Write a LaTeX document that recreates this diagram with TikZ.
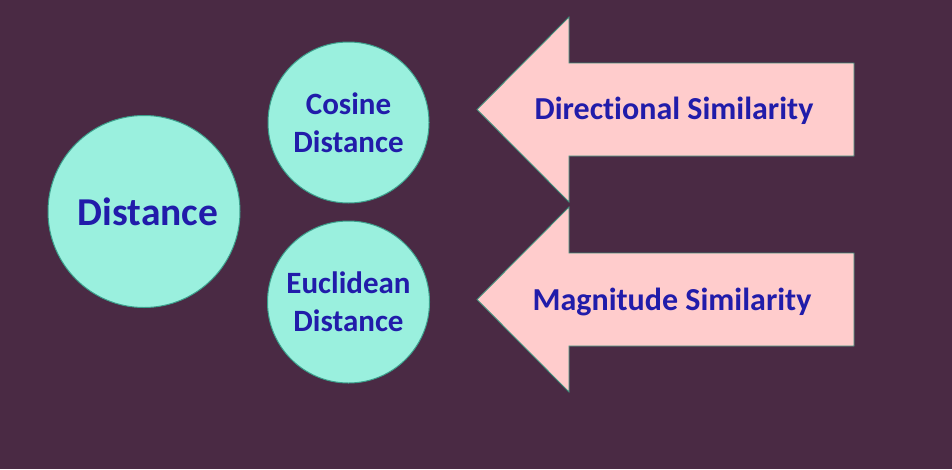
\documentclass[tikz,border=0pt]{standalone}
\usepackage{fontspec}
\setmainfont{Carlito}[Ligatures={NoCommon}]
\definecolor{bgc}{RGB}{74,42,68}
\definecolor{circfill}{RGB}{154,240,222}
\definecolor{circline}{RGB}{60,160,140}
\definecolor{arrfill}{RGB}{255,204,204}
\definecolor{arrline}{RGB}{60,140,120}
\definecolor{txtc}{RGB}{33,28,170}
\tikzset{
  bubble/.style={circle, fill=circfill, draw=circline, line width=1pt, inner sep=0pt, text=txtc, font=\bfseries, align=center},
  arrowshape/.style={fill=arrfill, draw=arrline, line width=0.9pt, line join=miter},
  label text/.style={text=txtc, font=\fontsize{32}{38}\selectfont\bfseries, inner sep=0pt, anchor=base}
}
\begin{document}
\begin{tikzpicture}[x=1pt,y=-1pt]
\fill[bgc] (0,0) rectangle (952,469);
\useasboundingbox (0,0) rectangle (952,469);
% circles
\node[bubble, minimum size=192pt, font=\fontsize{39.5}{44}\selectfont\bfseries] (dist) at (144,211.5) {\hspace*{4pt}Distance\hspace*{-4pt}};
\node[bubble, minimum size=161pt, font=\fontsize{31}{38}\selectfont\bfseries] (cos) at (348.5,122.5) {Cosine\\Distance};
\node[bubble, minimum size=162pt, font=\fontsize{31}{38}\selectfont\bfseries] (euc) at (348.5,302) {Euclidean\\Distance};
% arrows
\draw[arrowshape] (477,109.5) -- (569,17) -- (569,63) -- (854,63) -- (854,156) -- (569,156) -- (569,202) -- cycle;
\draw[arrowshape] (477,299.5) -- (569,207) -- (569,253) -- (854,253) -- (854,346) -- (569,346) -- (569,392) -- cycle;
\node[label text] (dirsim) at (674,119.5) {Directional Similarity};
\node[label text] (magsim) at (672,310) {Magnitude Similarity};
\end{tikzpicture}
\end{document}
